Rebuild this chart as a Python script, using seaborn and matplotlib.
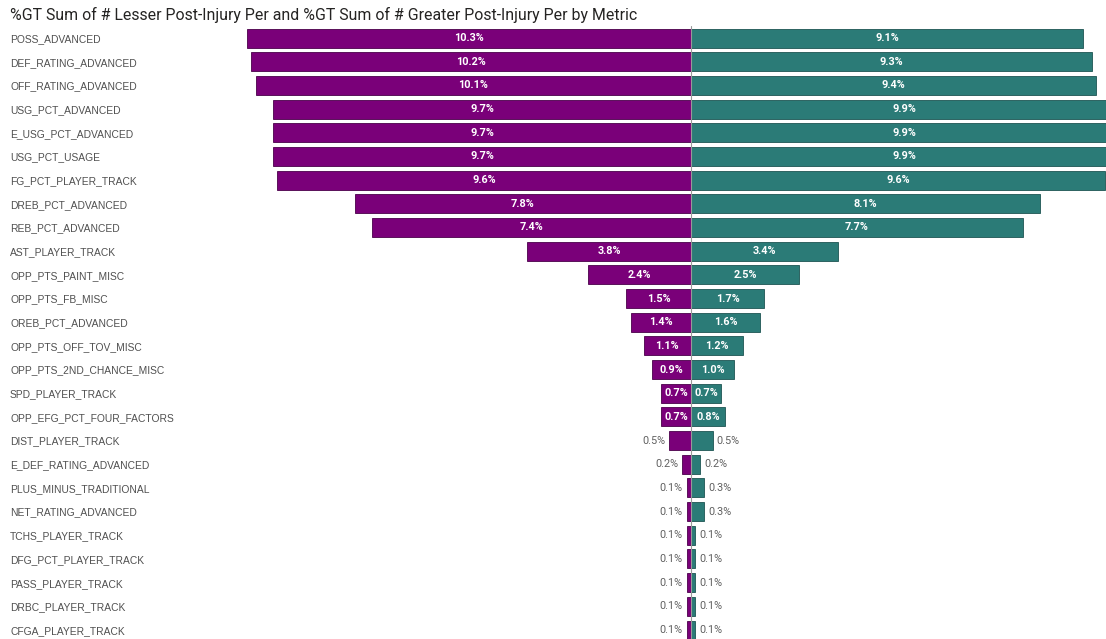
import matplotlib
matplotlib.use("Agg")
import matplotlib.pyplot as plt
import seaborn as sns
import pandas as pd
import numpy as np

metrics = ["POSS_ADVANCED", "DEF_RATING_ADVANCED", "OFF_RATING_ADVANCED", "USG_PCT_ADVANCED",
           "E_USG_PCT_ADVANCED", "USG_PCT_USAGE", "FG_PCT_PLAYER_TRACK", "DREB_PCT_ADVANCED",
           "REB_PCT_ADVANCED", "AST_PLAYER_TRACK", "OPP_PTS_PAINT_MISC", "OPP_PTS_FB_MISC",
           "OREB_PCT_ADVANCED", "OPP_PTS_OFF_TOV_MISC", "OPP_PTS_2ND_CHANCE_MISC",
           "SPD_PLAYER_TRACK", "OPP_EFG_PCT_FOUR_FACTORS", "DIST_PLAYER_TRACK",
           "E_DEF_RATING_ADVANCED", "PLUS_MINUS_TRADITIONAL", "NET_RATING_ADVANCED",
           "TCHS_PLAYER_TRACK", "DFG_PCT_PLAYER_TRACK", "PASS_PLAYER_TRACK",
           "DRBC_PLAYER_TRACK", "CFGA_PLAYER_TRACK"]
lesser = [10.3, 10.2, 10.1, 9.7, 9.7, 9.7, 9.6, 7.8, 7.4, 3.8, 2.4, 1.5, 1.4, 1.1, 0.9,
          0.7, 0.7, 0.5, 0.2, 0.1, 0.1, 0.1, 0.1, 0.1, 0.1, 0.1]
greater = [9.1, 9.3, 9.4, 9.9, 9.9, 9.9, 9.6, 8.1, 7.7, 3.4, 2.5, 1.7, 1.6, 1.2, 1.0,
           0.7, 0.8, 0.5, 0.2, 0.3, 0.3, 0.1, 0.1, 0.1, 0.1, 0.1]
title = "%GT Sum of # Lesser Post-Injury Per and %GT Sum of # Greater Post-Injury Per by Metric"

PURPLE = "#7a0079"
TEAL = "#2b7b77"

sns.set_theme(style="white")
plt.rcParams['font.family'] = ['Roboto', 'DejaVu Sans']

W, H = 1106, 639
fig = plt.figure(figsize=(W / 100, H / 100), dpi=100)
ax_left_px, ax_right_px = 240, 1106
ax_top_px, ax_bot_px = 26.2, 639
ax = fig.add_axes([ax_left_px / W, 1 - ax_bot_px / H,
                   (ax_right_px - ax_left_px) / W, (ax_bot_px - ax_top_px) / H])

df = pd.DataFrame({"metric": metrics, "lesser": lesser, "greater": greater})
df["neg"] = -df["lesser"]

sns.barplot(data=df, x="neg", y="metric", color=PURPLE, orient="h", width=0.8,
            edgecolor="#4a004a", linewidth=0.6, saturation=1, ax=ax)
sns.barplot(data=df, x="greater", y="metric", color=TEAL, orient="h", width=0.8,
            edgecolor="#1d5552", linewidth=0.6, saturation=1, ax=ax)

pxper = 43.1
center = 691
ax.set_xlim(-(center - ax_left_px) / pxper, (ax_right_px - center) / pxper)
ax.set_ylim(25.38, -0.5)
ax.axvline(0, color="#999999", lw=0.8, zorder=5)

for sp in ax.spines.values():
    sp.set_visible(False)
ax.set_xticks([])
ax.set_xlabel("")
ax.set_ylabel("")
ax.tick_params(axis="y", length=0, pad=(ax_left_px - 10) * 0.72)
for lab in ax.get_yticklabels():
    lab.set_ha("left")
    lab.set_fontsize(7.4)
    lab.set_family(["Liberation Sans", "DejaVu Sans"])
    lab.set_color("#505050")

thr = 0.65
for i, (l, g) in enumerate(zip(lesser, greater)):
    if l >= thr:
        ax.text(-l / 2, i, f"{l:.1f}%", ha="center", va="center", color="white",
                fontsize=7.8, fontweight="bold", zorder=6)
    else:
        ax.text(-l - 0.1, i, f"{l:.1f}%", ha="right", va="center", color="#606060",
                fontsize=7.8, zorder=6)
    if g >= thr:
        ax.text(g / 2, i, f"{g:.1f}%", ha="center", va="center", color="white",
                fontsize=7.8, fontweight="bold", zorder=6)
    else:
        ax.text(g + 0.1, i, f"{g:.1f}%", ha="left", va="center", color="#606060",
                fontsize=7.8, zorder=6)

fig.text(10 / W, 1 - 15 / H, title, ha="left", va="center", fontsize=11.4,
         color="#252423")

fig.savefig("out.png", dpi=100, facecolor="white")
